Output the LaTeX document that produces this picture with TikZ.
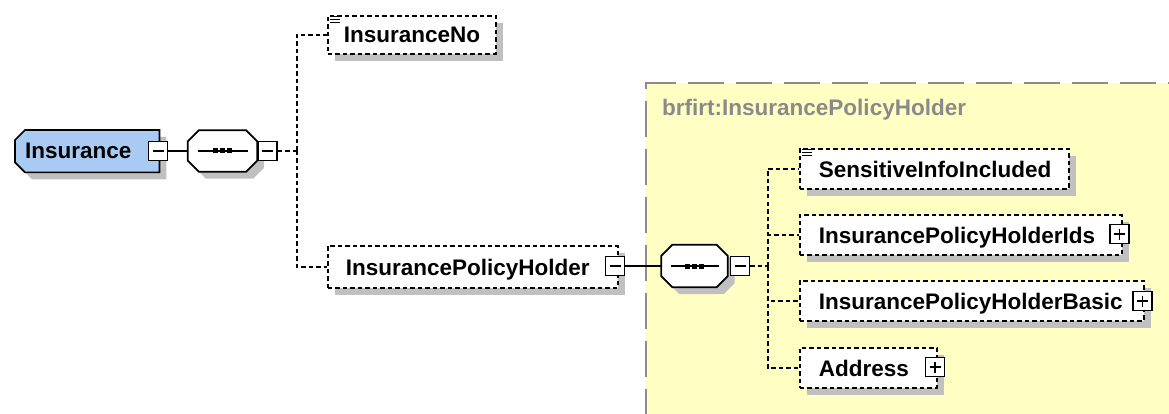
\documentclass[tikz,border=0pt]{standalone}
\usepackage{fontspec}
\setmainfont{Liberation Sans}
\usetikzlibrary{shadows}
\definecolor{elemblue}{HTML}{A9CBF3}
\definecolor{typeyellow}{HTML}{FFFFC4}
\definecolor{shadowgray}{HTML}{C0C0C0}
\definecolor{titlegray}{HTML}{8A8A8A}
\definecolor{framegray}{HTML}{8C8C8C}
\newcommand\octpath[2]{([xshift=#2]#1.north west) -- ([xshift=-#2]#1.north east) -- ([yshift=-#2]#1.north east) -- ([yshift=#2]#1.south east) -- ([xshift=-#2]#1.south east) -- ([xshift=#2]#1.south west) -- ([yshift=#2]#1.south west) -- ([yshift=-#2]#1.north west) -- cycle}
\newcommand\leftchamfpath[2]{([xshift=#2]#1.north west) -- (#1.north east) -- (#1.south east) -- ([xshift=#2]#1.south west) -- ([yshift=#2]#1.south west) -- ([yshift=-#2]#1.north west) -- cycle}
\tikzset{
  lw/.style={line width=1.7pt},
  shadowed/.style={drop shadow={shadow xshift=7pt, shadow yshift=-7pt, fill=shadowgray, draw=none, opacity=1}},
  ebox/.style={draw, dash pattern=on 4.5pt off 3pt, lw, fill=white, shadowed,
    anchor=north west, minimum height=40pt, inner ysep=0pt, align=left, text depth=0pt},
  conn/.style={draw, dash pattern=on 4.5pt off 3pt, lw},
  solidconn/.style={draw, lw},
  pmbox/.style={draw, solid, lw, fill=white, minimum size=19pt, inner sep=0pt},
  minusbox/.style={pmbox, path picture={\draw[lw] ([xshift=4pt]path picture bounding box.west) -- ([xshift=-4pt]path picture bounding box.east);}},
  plusbox/.style={pmbox, path picture={\draw[lw] ([xshift=4pt]path picture bounding box.west) -- ([xshift=-4pt]path picture bounding box.east);
      \draw[lw] ([yshift=-4pt]path picture bounding box.north) -- ([yshift=4pt]path picture bounding box.south);}},
  seqbox/.style={rectangle, draw=none, minimum width=69pt, minimum height=41pt, inner sep=0pt},
  shadowshift/.style={transform canvas={shift={(7pt,-7pt)}}},
}
\begin{document}
\begin{tikzpicture}[x=1pt,y=-1pt,font=\fontsize{22.5}{24}\selectfont\bfseries]
\useasboundingbox (0,0) rectangle (1169,414);
\begin{scope}
\clip (0,0) rectangle (1169,414);
% type region
\fill[typeyellow] (646,83) rectangle (1180,425);
\draw[framegray, line width=1.6pt, dash pattern=on 36pt off 12pt] (646,425) -- (646,83) -- (1180,83);
\end{scope}
\node[anchor=west, text=titlegray, inner sep=0pt] (title) at (662,110) {brfirt:InsurancePolicyHolder};

% root element
\node[rectangle, anchor=north west, minimum width=144pt, minimum height=42pt, text width=124pt,
  inner xsep=10pt, inner ysep=0pt, align=left] (ins) at (15,130) {};
\begin{scope}[shadowshift]
\fill[shadowgray] \leftchamfpath{ins}{10pt};
\end{scope}
\filldraw[fill=elemblue, lw] \leftchamfpath{ins}{10pt};
\node[anchor=north west, minimum width=144pt, minimum height=42pt, text width=124pt,
  inner xsep=10pt, inner ysep=0pt, align=left] at (15,130) {Insurance};
\node[minusbox] (m1) at (158,151) {};

% sequence 1
\node[seqbox] (seq1) at (222.5,151) {};
\begin{scope}[shadowshift]
\fill[shadowgray] \octpath{seq1}{11pt};
\end{scope}
\filldraw[fill=white, lw] \octpath{seq1}{11pt};
\node[minusbox] (m2) at (267.5,151) {};
\draw[solidconn] (m1.east) -- (seq1.west);
\draw[lw] ([xshift=-25pt]seq1.center) -- ([xshift=25pt]seq1.center);
\foreach \dx in {-7,0,7} \fill ([xshift=\dx pt]seq1.center) +(-2.5,-2.5) rectangle +(2.5,2.5);

% children of Insurance
\node[ebox, minimum width=168pt, minimum height=38pt, text width=136pt, inner xsep=16pt] (no) at (327,15) {InsuranceNo};
\node[ebox, minimum width=290pt, minimum height=42pt, text width=254pt, inner xsep=18pt] (iph) at (327,245) {InsurancePolicyHolder};
\coordinate (t1) at (297,151);
\draw[conn] (m2.east) -- (t1);
\draw[conn] (t1) |- (no.west);
\draw[conn] (t1) |- (iph.west);
\foreach \yy in {2,5,8} \draw[line width=1pt] ([shift={(3,\yy)}]no.north west) -- +(10,0);
\node[minusbox] (m3) at (615,266) {};

% sequence 2
\node[seqbox, minimum width=66pt, minimum height=42pt] (seq2) at (694.5,266) {};
\begin{scope}[shadowshift]
\fill[shadowgray] \octpath{seq2}{11pt};
\end{scope}
\filldraw[fill=white, lw] \octpath{seq2}{11pt};
\node[minusbox] (m4) at (740,266) {};
\draw[solidconn] (m3.east) -- (seq2.west);
\draw[lw] ([xshift=-24pt]seq2.center) -- ([xshift=24pt]seq2.center);
\foreach \dx in {-7,0,7} \fill ([xshift=\dx pt]seq2.center) +(-2.5,-2.5) rectangle +(2.5,2.5);

% children of InsurancePolicyHolder
\node[ebox, minimum width=269pt, text width=231pt, inner xsep=19pt] (sii) at (799,148) {SensitiveInfoIncluded};
\node[ebox, minimum width=322pt, text width=284pt, inner xsep=19pt] (ids) at (799,214) {InsurancePolicyHolderIds};
\node[ebox, minimum width=344pt, text width=306pt, inner xsep=19pt] (basic) at (799,280) {InsurancePolicyHolderBasic};
\node[ebox, minimum width=137pt, text width=99pt, inner xsep=19pt] (addr) at (799,347) {Address};
\foreach \yy in {2,5,8} \draw[line width=1pt] ([shift={(3,\yy)}]sii.north west) -- +(10,0);
\node[plusbox] (p1) at (1119.5,234) {};
\node[plusbox] (p2) at (1142.5,301) {};
\node[plusbox] (p3) at (935,367) {};
\coordinate (t2) at (768,266);
\draw[conn] (m4.east) -- (t2);
\draw[conn] (t2) |- (sii.west);
\draw[conn] (t2) |- (ids.west);
\draw[conn] (t2) |- (basic.west);
\draw[conn] (t2) |- (addr.west);
\end{tikzpicture}
\end{document}
